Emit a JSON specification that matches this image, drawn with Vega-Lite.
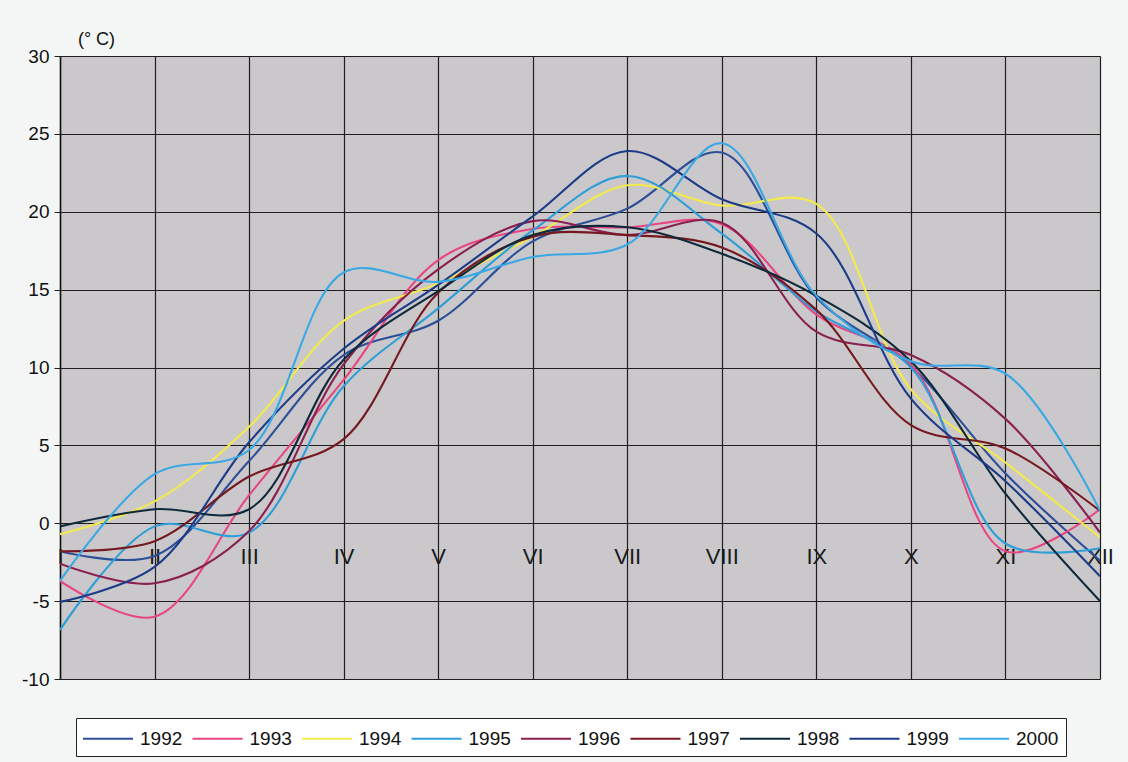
{
  "$schema": "https://vega.github.io/schema/vega-lite/v6.json",
  "width": 1040,
  "height": 623,
  "autosize": {"type": "none"},
  "padding": {"left": 60, "top": 56, "right": 28, "bottom": 83},
  "background": "#f4f6f6",
  "config": {
    "view": {"fill": "#cac8ca", "stroke": null},
    "font": "Liberation Sans"
  },
  "datasets": {
    "temps": [
      {"year":"1992","month":"I","t":-1.8},{"year":"1992","month":"II","t":-2.1},{"year":"1992","month":"III","t":4.0},{"year":"1992","month":"IV","t":10.8},{"year":"1992","month":"V","t":13.0},{"year":"1992","month":"VI","t":18.1},{"year":"1992","month":"VII","t":20.2},{"year":"1992","month":"VIII","t":23.8},{"year":"1992","month":"IX","t":14.5},{"year":"1992","month":"X","t":10.1},{"year":"1992","month":"XI","t":3.2},{"year":"1992","month":"XII","t":-2.4},
      {"year":"1993","month":"I","t":-3.7},{"year":"1993","month":"II","t":-6.0},{"year":"1993","month":"III","t":1.8},{"year":"1993","month":"IV","t":9.2},{"year":"1993","month":"V","t":16.9},{"year":"1993","month":"VI","t":18.9},{"year":"1993","month":"VII","t":19.0},{"year":"1993","month":"VIII","t":19.2},{"year":"1993","month":"IX","t":13.4},{"year":"1993","month":"X","t":10.2},{"year":"1993","month":"XI","t":-1.8},{"year":"1993","month":"XII","t":0.9},
      {"year":"1994","month":"I","t":-0.7},{"year":"1994","month":"II","t":1.4},{"year":"1994","month":"III","t":6.2},{"year":"1994","month":"IV","t":13.0},{"year":"1994","month":"V","t":15.4},{"year":"1994","month":"VI","t":18.4},{"year":"1994","month":"VII","t":21.7},{"year":"1994","month":"VIII","t":20.4},{"year":"1994","month":"IX","t":20.5},{"year":"1994","month":"X","t":8.6},{"year":"1994","month":"XI","t":3.9},{"year":"1994","month":"XII","t":-0.9},
      {"year":"1995","month":"I","t":-6.85},{"year":"1995","month":"II","t":-0.2},{"year":"1995","month":"III","t":-0.6},{"year":"1995","month":"IV","t":8.8},{"year":"1995","month":"V","t":13.8},{"year":"1995","month":"VI","t":18.8},{"year":"1995","month":"VII","t":22.3},{"year":"1995","month":"VIII","t":18.6},{"year":"1995","month":"IX","t":13.6},{"year":"1995","month":"X","t":10.0},{"year":"1995","month":"XI","t":-1.3},{"year":"1995","month":"XII","t":-1.6},
      {"year":"1996","month":"I","t":-2.6},{"year":"1996","month":"II","t":-3.85},{"year":"1996","month":"III","t":-0.5},{"year":"1996","month":"IV","t":10.2},{"year":"1996","month":"V","t":16.3},{"year":"1996","month":"VI","t":19.4},{"year":"1996","month":"VII","t":18.5},{"year":"1996","month":"VIII","t":19.3},{"year":"1996","month":"IX","t":12.3},{"year":"1996","month":"X","t":10.8},{"year":"1996","month":"XI","t":6.7},{"year":"1996","month":"XII","t":-0.6},
      {"year":"1997","month":"I","t":-1.8},{"year":"1997","month":"II","t":-1.15},{"year":"1997","month":"III","t":3.0},{"year":"1997","month":"IV","t":5.4},{"year":"1997","month":"V","t":14.8},{"year":"1997","month":"VI","t":18.4},{"year":"1997","month":"VII","t":18.5},{"year":"1997","month":"VIII","t":17.7},{"year":"1997","month":"IX","t":13.7},{"year":"1997","month":"X","t":6.3},{"year":"1997","month":"XI","t":4.8},{"year":"1997","month":"XII","t":0.8},
      {"year":"1998","month":"I","t":-0.2},{"year":"1998","month":"II","t":0.9},{"year":"1998","month":"III","t":0.9},{"year":"1998","month":"IV","t":10.5},{"year":"1998","month":"V","t":14.9},{"year":"1998","month":"VI","t":18.5},{"year":"1998","month":"VII","t":19.0},{"year":"1998","month":"VIII","t":17.3},{"year":"1998","month":"IX","t":14.6},{"year":"1998","month":"X","t":10.4},{"year":"1998","month":"XI","t":1.9},{"year":"1998","month":"XII","t":-5.0},
      {"year":"1999","month":"I","t":-5.05},{"year":"1999","month":"II","t":-2.8},{"year":"1999","month":"III","t":5.2},{"year":"1999","month":"IV","t":11.2},{"year":"1999","month":"V","t":15.3},{"year":"1999","month":"VI","t":19.7},{"year":"1999","month":"VII","t":23.9},{"year":"1999","month":"VIII","t":20.8},{"year":"1999","month":"IX","t":18.6},{"year":"1999","month":"X","t":8.0},{"year":"1999","month":"XI","t":2.7},{"year":"1999","month":"XII","t":-3.4},
      {"year":"2000","month":"I","t":-3.7},{"year":"2000","month":"II","t":3.15},{"year":"2000","month":"III","t":4.7},{"year":"2000","month":"IV","t":16.1},{"year":"2000","month":"V","t":15.5},{"year":"2000","month":"VI","t":17.1},{"year":"2000","month":"VII","t":17.9},{"year":"2000","month":"VIII","t":24.4},{"year":"2000","month":"IX","t":14.6},{"year":"2000","month":"X","t":10.4},{"year":"2000","month":"XI","t":9.6},{"year":"2000","month":"XII","t":0.8}
    ]
  },
  "data": {"name": "temps"},
  "mark": {"type": "line", "interpolate": "catmull-rom", "strokeWidth": 2.1, "clip": true},
  "encoding": {
    "x": {
      "field": "month",
      "type": "ordinal",
      "sort": ["I","II","III","IV","V","VI","VII","VIII","IX","X","XI","XII"],
      "scale": {"type": "point", "padding": 0},
      "axis": {
        "title": null,
        "orient": "bottom",
        "offset": -155,
        "domain": false,
        "ticks": false,
        "labelAngle": 0,
        "labelPadding": 22,
        "labelFontSize": 22,
        "labelColor": "#1a1a1a",
        "labelFont": "Liberation Sans",
        "labelOverlap": false,
        "labelBound": false,
        "labelFlush": false,
        "grid": true,
        "gridColor": "#1e1e1e",
        "gridWidth": 1.2,
        "gridOpacity": 1
      }
    },
    "y": {
      "field": "t",
      "type": "quantitative",
      "scale": {"domain": [-10, 30], "nice": false, "zero": false},
      "axis": {
        "values": [-10, -5, 0, 5, 10, 15, 20, 25, 30],
        "labelExpr": "'' + datum.value",
        "title": "(° C)",
        "titleAngle": 0,
        "titleX": 36,
        "titleY": -17,
        "titleAlign": "center",
        "titleBaseline": "middle",
        "titleFontSize": 18,
        "titleFontWeight": "normal",
        "titleColor": "#111111",
        "titleFont": "Liberation Sans",
        "labelFontSize": 19,
        "labelColor": "#111111",
        "labelFont": "Liberation Sans",
        "labelPadding": 5,
        "tickSize": 6,
        "tickColor": "#222222",
        "domain": true,
        "domainColor": "#111111",
        "domainWidth": 1.5,
        "grid": true,
        "gridColor": "#1e1e1e",
        "gridWidth": 1.2,
        "gridOpacity": 1
      }
    },
    "color": {
      "field": "year",
      "type": "nominal",
      "scale": {
        "domain": ["1992","1993","1994","1995","1996","1997","1998","1999","2000"],
        "range": ["#2c4f98","#e84682","#f3ea4c","#2e9ed8","#8a2050","#761820","#0e2a3a","#1c3c88","#3aa8e4"]
      },
      "legend": {
        "title": null,
        "orient": "none",
        "legendX": 16,
        "legendY": 662,
        "direction": "horizontal",
        "columns": 9,
        "symbolType": "M-2,0H2",
        "symbolSize": 625,
        "symbolStrokeWidth": 2,
        "symbolOffset": 11.5,
        "labelFontSize": 19,
        "labelFont": "Liberation Sans",
        "labelColor": "#111111",
        "labelOffset": 18.5,
        "columnPadding": 5.5,
        "padding": 7,
        "strokeColor": "#222222",
        "fillColor": "#ffffff"
      }
    }
  }
}
